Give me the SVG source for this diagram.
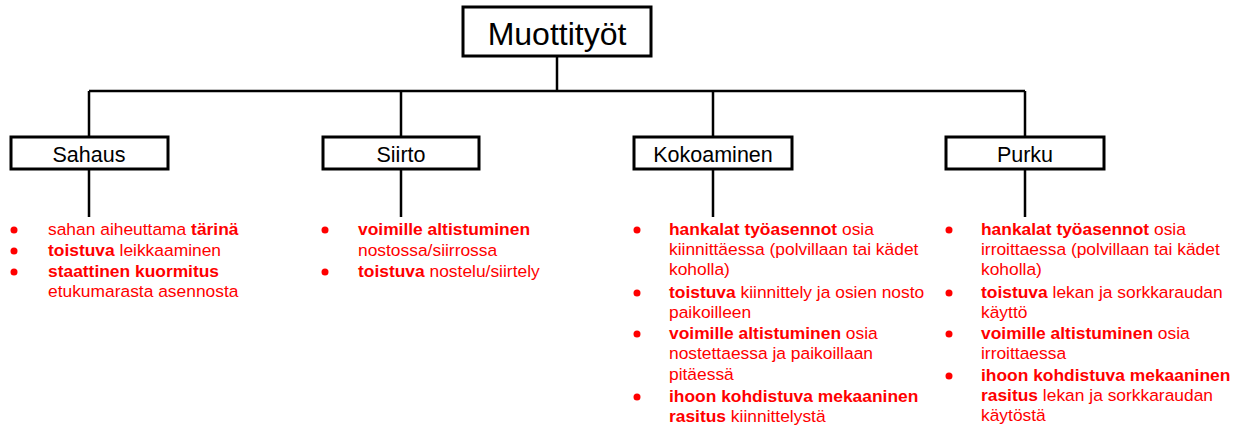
<svg xmlns="http://www.w3.org/2000/svg" width="1246" height="427" viewBox="0 0 1246 427">
  <style>
    .box { fill: #ffffff; stroke: #000000; stroke-width: 3; }
    .link { fill: none; stroke: #000000; stroke-width: 2.5; }
    .title { font-family: "Liberation Sans", Arial, sans-serif; font-size: 32px; fill: #000000; text-anchor: middle; }
    .label { font-family: "Liberation Sans", Arial, sans-serif; font-size: 21.5px; fill: #000000; text-anchor: middle; }
    .item { font-family: "Liberation Sans", Arial, sans-serif; font-size: 17.4px; fill: #ff0000; }
    .item .b { font-weight: bold; }
    .dot { fill: #ff0000; }
  </style>
  <rect width="1246" height="427" fill="#ffffff"/>

  <!-- tree connectors -->
  <g id="connectors">
    <path class="link" d="M557 56 V91"/>
    <path class="link" d="M89 91 H1025"/>
    <path class="link" d="M89 91 V137 M401 91 V137 M713 91 V137 M1025 91 V137"/>
    <path class="link" d="M89 169 V217 M401 169 V217 M713 169 V217 M1025 169 V217"/>
  </g>

  <g id="root">
    <rect class="box" x="463" y="7" width="188" height="49"/>
    <text class="title" x="557" y="45">Muottityöt</text>
  </g>

  <g id="sahaus">
    <rect class="box" x="11" y="137" width="157" height="32"/>
    <text class="label" x="89" y="162">Sahaus</text>
    <g class="item">
      <circle class="dot" cx="14" cy="230" r="3.5"/>
      <circle class="dot" cx="14" cy="251" r="3.5"/>
      <circle class="dot" cx="14" cy="272" r="3.5"/>
      <text x="48" y="235">sahan aiheuttama <tspan class="b">tärinä</tspan></text>
      <text x="48" y="256"><tspan class="b">toistuva</tspan> leikkaaminen</text>
      <text x="48" y="277"><tspan class="b">staattinen kuormitus</tspan></text>
      <text x="48" y="297">etukumarasta asennosta</text>
    </g>
  </g>

  <g id="siirto">
    <rect class="box" x="323" y="137" width="156" height="32"/>
    <text class="label" x="401" y="162">Siirto</text>
    <g class="item">
      <circle class="dot" cx="325" cy="230" r="3.5"/>
      <circle class="dot" cx="325" cy="272" r="3.5"/>
      <text x="358" y="235"><tspan class="b">voimille altistuminen</tspan></text>
      <text x="358" y="256">nostossa/siirrossa</text>
      <text x="358" y="277"><tspan class="b">toistuva</tspan> nostelu/siirtely</text>
    </g>
  </g>

  <g id="kokoaminen">
    <rect class="box" x="634" y="137" width="158" height="32"/>
    <text class="label" x="713" y="162">Kokoaminen</text>
    <g class="item">
      <circle class="dot" cx="637" cy="230" r="3.5"/>
      <circle class="dot" cx="637" cy="293" r="3.5"/>
      <circle class="dot" cx="637" cy="334" r="3.5"/>
      <circle class="dot" cx="637" cy="397" r="3.5"/>
      <text x="669" y="235"><tspan class="b">hankalat työasennot</tspan> osia</text>
      <text x="669" y="255">kiinnittäessa (polvillaan tai kädet</text>
      <text x="669" y="275">koholla)</text>
      <text x="669" y="298"><tspan class="b">toistuva</tspan> kiinnittely ja osien nosto</text>
      <text x="669" y="318">paikoilleen</text>
      <text x="669" y="339"><tspan class="b">voimille altistuminen</tspan> osia</text>
      <text x="669" y="359">nostettaessa ja paikoillaan</text>
      <text x="669" y="380">pitäessä</text>
      <text x="669" y="402"><tspan class="b">ihoon kohdistuva mekaaninen</tspan></text>
      <text x="669" y="422"><tspan class="b">rasitus</tspan> kiinnittelystä</text>
    </g>
  </g>

  <g id="purku">
    <rect class="box" x="946" y="137" width="158" height="32"/>
    <text class="label" x="1025" y="162">Purku</text>
    <g class="item">
      <circle class="dot" cx="949" cy="230" r="3.5"/>
      <circle class="dot" cx="949" cy="293" r="3.5"/>
      <circle class="dot" cx="949" cy="334" r="3.5"/>
      <circle class="dot" cx="949" cy="376" r="3.5"/>
      <text x="981" y="235"><tspan class="b">hankalat työasennot</tspan> osia</text>
      <text x="981" y="255">irroittaessa (polvillaan tai kädet</text>
      <text x="981" y="275">koholla)</text>
      <text x="981" y="298"><tspan class="b">toistuva</tspan> lekan ja sorkkaraudan</text>
      <text x="981" y="318">käyttö</text>
      <text x="981" y="339"><tspan class="b">voimille altistuminen</tspan> osia</text>
      <text x="981" y="359">irroittaessa</text>
      <text x="981" y="381"><tspan class="b">ihoon kohdistuva mekaaninen</tspan></text>
      <text x="981" y="401"><tspan class="b">rasitus</tspan> lekan ja sorkkaraudan</text>
      <text x="981" y="421">käytöstä</text>
    </g>
  </g>
</svg>
